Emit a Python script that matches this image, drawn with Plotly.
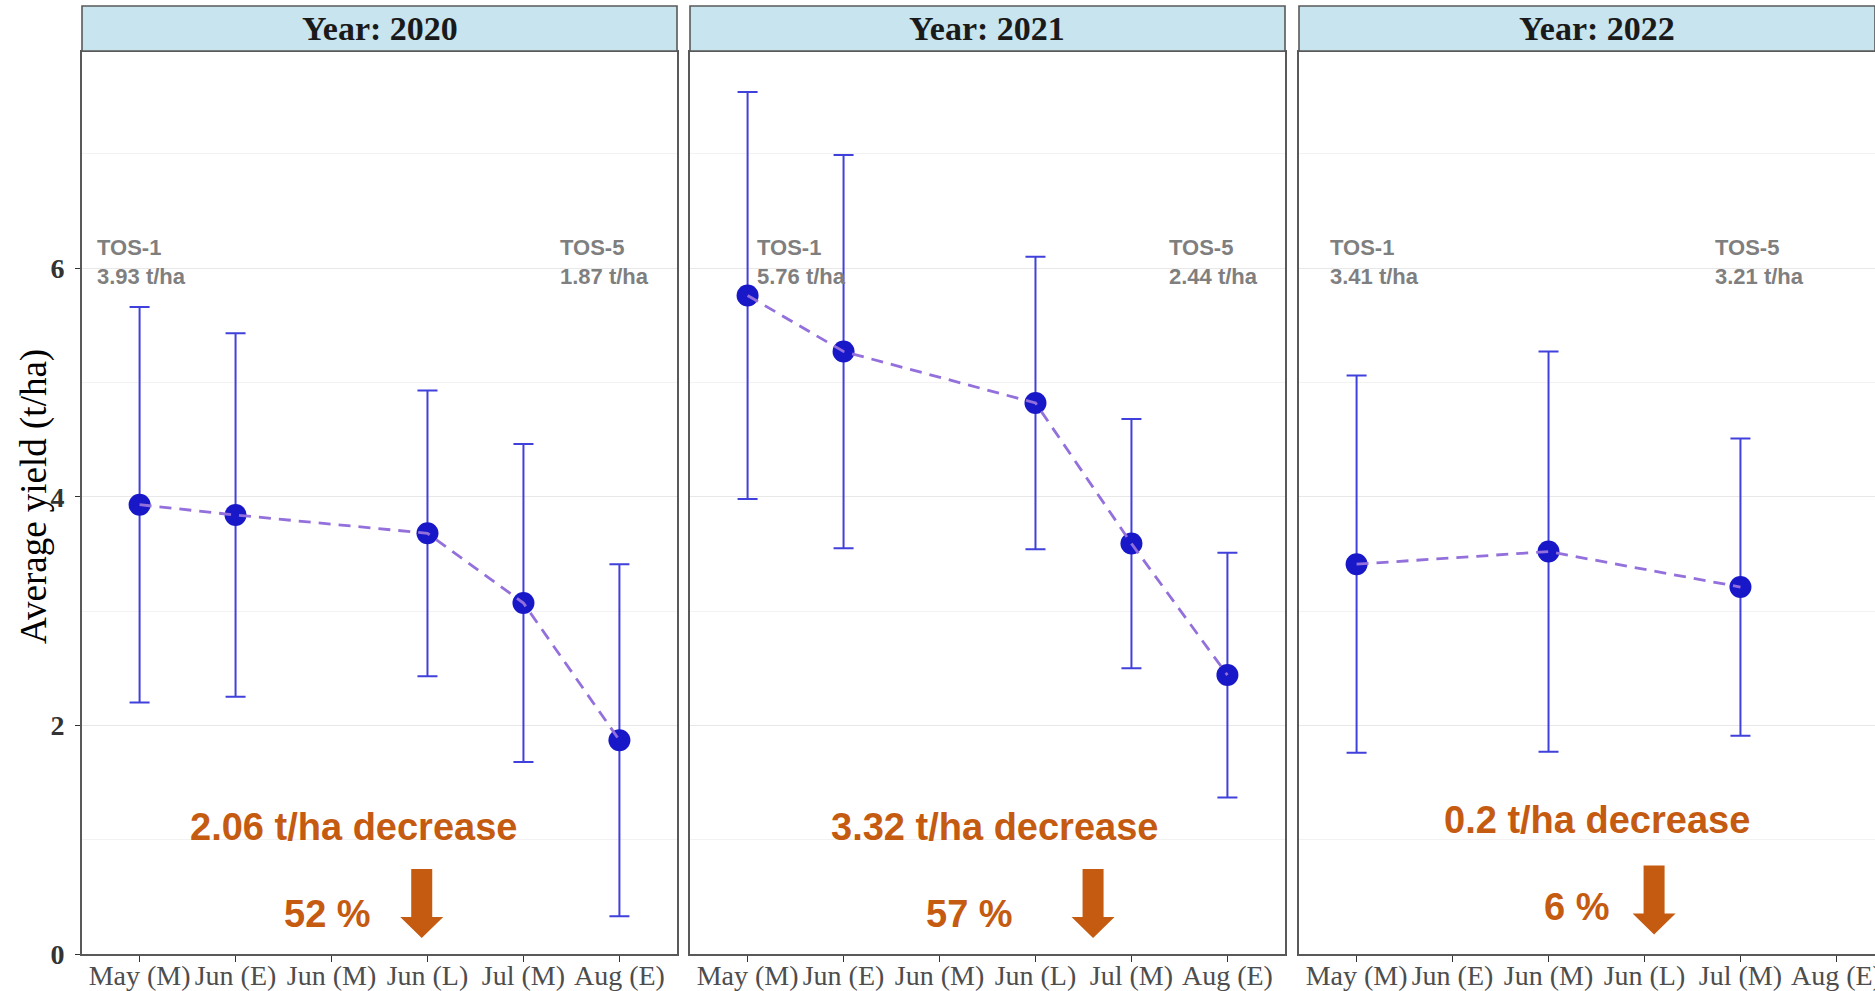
import plotly.graph_objects as go

# ---- data -------------------------------------------------------------
categories = ["May (M)", "Jun (E)", "Jun (M)", "Jun (L)", "Jul (M)", "Aug (E)"]
years = [2020, 2021, 2022]

sow_2020 = ["May (M)", "Jun (E)", "Jun (L)", "Jul (M)", "Aug (E)"]
yield_2020 = [3.93, 3.84, 3.68, 3.07, 1.87]
err_2020 = [1.73, 1.59, 1.25, 1.39, 1.54]

sow_2021 = ["May (M)", "Jun (E)", "Jun (L)", "Jul (M)", "Aug (E)"]
yield_2021 = [5.76, 5.27, 4.82, 3.59, 2.44]
err_2021 = [1.78, 1.72, 1.28, 1.09, 1.07]

sow_2022 = ["May (M)", "Jun (M)", "Jul (M)"]
yield_2022 = [3.41, 3.52, 3.21]
err_2022 = [1.65, 1.75, 1.30]

pct_labels = ["52 %", "57 %", "6 %"]
y_ticks = [0, 2, 4, 6]

sows = [sow_2020, sow_2021, sow_2022]
yields = [yield_2020, yield_2021, yield_2022]
errs = [err_2020, err_2021, err_2022]

# ---- geometry / style ---------------------------------------------------
W, H = 1875, 991
panel_left = [82, 690, 1299]
panel_w = 595
px_per_cat = panel_w / 6.2
plot_top, plot_bottom = 52, 954
strip_top, strip_bottom = 6, 51
y_max = 7.89

SERIF = "Liberation Serif"
SANS = "Liberation Sans"
ORANGE = "#C55A11"
GREY_TXT = "#7F7F7F"

# annotation anchors per panel (data units)
tos1_x = [-0.465, 0.077, -0.30]
tos5_x = [4.36, 4.37, 3.71]
tos_y = 6.05
dec_x = [2.23, 2.57, 2.51]
dec_y = [1.11, 1.11, 1.17]
pct_x = [1.96, 2.31, 2.29]
pct_y = [0.35, 0.35, 0.41]
arrow_x = [2.94, 3.60, 3.10]
arrow_tip = [0.14, 0.14, 0.17]

fig = go.Figure()
layout = dict(
    width=W, height=H,
    margin=dict(l=0, r=0, t=0, b=0),
    paper_bgcolor="white", plot_bgcolor="white",
    showlegend=False,
)
shapes = []
annotations = []

ydom = [1 - plot_bottom / H, 1 - plot_top / H]

for i, yr in enumerate(years):
    n = "" if i == 0 else str(i + 1)
    xa, ya = "x" + n, "y" + n
    left = panel_left[i]
    right = min(left + panel_w, W)
    x_hi = -0.6 + (right - left) / px_per_cat

    xs = [categories.index(c) for c in sows[i]]

    # error bars + points
    fig.add_trace(go.Scatter(
        x=xs, y=yields[i], xaxis=xa, yaxis=ya, mode="markers",
        marker=dict(size=22, color="#1818C8"),
        error_y=dict(type="data", array=errs[i], visible=True,
                     color="#4040DC", thickness=2, width=10),
        hoverinfo="skip",
    ))
    # dashed connecting line, drawn over the points
    fig.add_trace(go.Scatter(
        x=xs, y=yields[i], xaxis=xa, yaxis=ya, mode="lines",
        line=dict(color="#9370DB", width=2.8, dash="12px,8px"),
        hoverinfo="skip",
    ))

    layout["xaxis" + n] = dict(
        domain=[left / W, right / W], anchor=ya,
        range=[-0.6, x_hi], tickmode="array",
        tickvals=list(range(len(categories))), ticktext=categories,
        showgrid=False, zeroline=False,
        showline=True, mirror=True, linecolor="#595959", linewidth=1.6,
        ticks="outside", ticklen=6, tickwidth=1.4, tickcolor="#333333",
        ticklabelstandoff=-10, ticklabeloverflow="allow",
        tickfont=dict(family=SERIF, size=28, color="#4D4D4D"),
        automargin=False,
    )
    layout["yaxis" + n] = dict(
        domain=ydom, anchor=xa, range=[0, y_max],
        tickmode="array", tickvals=y_ticks,
        showticklabels=(i == 0),
        ticks="outside" if i == 0 else "", ticklen=5, tickwidth=1.4,
        tickcolor="#333333", ticklabelstandoff=5,
        tickfont=dict(family=SERIF, size=28, color="#333333", weight="bold"),
        showgrid=True, gridcolor="#E8E8E8", gridwidth=1.3,
        minor=dict(tickvals=[1, 3, 5, 7], showgrid=True,
                   gridcolor="#F2F2F2", gridwidth=0.8),
        zeroline=False,
        showline=True, mirror=True, linecolor="#595959", linewidth=1.6,
        automargin=False,
    )

    # facet strip
    shapes.append(dict(
        type="rect", xref="paper", yref="paper",
        x0=left / W, x1=right / W,
        y0=1 - strip_bottom / H, y1=1 - strip_top / H,
        fillcolor="#C8E4EE", line=dict(color="#595959", width=1.6),
        layer="above",
    ))
    annotations.append(dict(
        xref="paper", yref="paper",
        x=(left + panel_w / 2) / W, y=1 - (strip_top + strip_bottom) / 2 / H,
        text=f"Year: {yr}", showarrow=False, xanchor="center", yanchor="middle",
        font=dict(family=SERIF, size=34, color="#1A1A1A", weight="bold"),
    ))

    m = yields[i]
    tos_font = dict(family=SANS, size=22, color=GREY_TXT, weight="bold")
    annotations.append(dict(
        xref=xa, yref=ya, x=tos1_x[i], y=tos_y,
        text=f"TOS-1<br>{m[0]:.2f} t/ha", showarrow=False,
        xanchor="left", yanchor="middle", align="left", font=tos_font,
    ))
    annotations.append(dict(
        xref=xa, yref=ya, x=tos5_x[i], y=tos_y,
        text=f"TOS-5<br>{m[-1]:.2f} t/ha", showarrow=False,
        xanchor="left", yanchor="middle", align="left", font=tos_font,
    ))

    drop = round(m[0] - m[-1], 2)
    big_font = dict(family=SANS, size=38, color=ORANGE, weight="bold")
    annotations.append(dict(
        xref=xa, yref=ya, x=dec_x[i], y=dec_y[i],
        text=f"{drop:g} t/ha decrease", showarrow=False,
        xanchor="center", yanchor="middle", font=big_font,
    ))
    annotations.append(dict(
        xref=xa, yref=ya, x=pct_x[i], y=pct_y[i],
        text=pct_labels[i], showarrow=False,
        xanchor="center", yanchor="middle", font=big_font,
    ))

    # block arrow pointing down (pixel-sized, anchored at its tip)
    shapes.append(dict(
        type="path", xref=xa, yref=ya,
        xsizemode="pixel", ysizemode="pixel",
        xanchor=arrow_x[i], yanchor=arrow_tip[i],
        path="M -10.5,69 L 10.5,69 L 10.5,21 L 21.5,21 L 0,0 "
             "L -21.5,21 L -10.5,21 Z",
        fillcolor=ORANGE, line=dict(width=0), layer="above",
    ))

# y-axis title
annotations.append(dict(
    xref="paper", yref="paper", x=34 / W, y=1 - 497 / H,
    text="Average yield (t/ha)", textangle=-90, showarrow=False,
    xanchor="center", yanchor="middle",
    font=dict(family=SERIF, size=37, color="#000000"),
))

layout["shapes"] = shapes
layout["annotations"] = annotations
fig.update_layout(**layout)

fig.write_html("out.html")
